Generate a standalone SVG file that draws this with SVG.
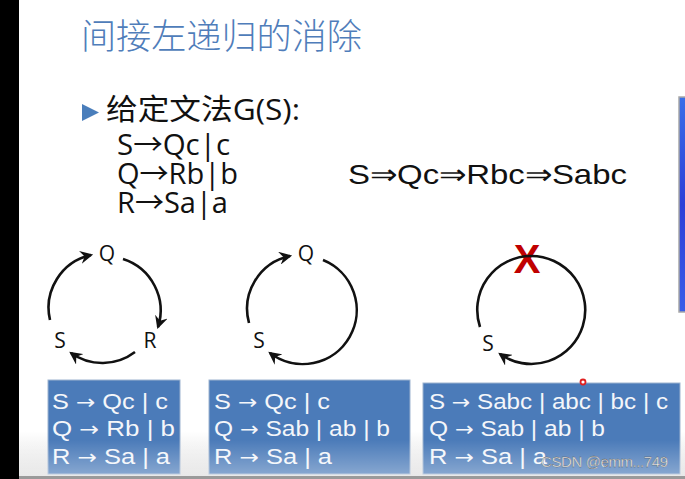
<svg xmlns="http://www.w3.org/2000/svg" width="685" height="479" viewBox="0 0 685 479">
<defs>
<style>
.title{font-family:"Noto Sans CJK SC","Noto Sans",sans-serif;font-size:35px;fill:#4F7DBA;font-weight:300}
.gram{font-family:"Open Sans","Noto Sans CJK SC",sans-serif;font-size:29px;fill:#111}
.deriv{font-family:"Liberation Sans",Arial,sans-serif;font-size:28px;fill:#111}
.lbl{font-family:"Open Sans","Noto Sans",sans-serif;font-size:21px;fill:#111}
.box{fill:#4B7BB9;stroke:#9DB3CF;stroke-width:1}
.btxt{font-family:"Liberation Sans",Arial,sans-serif;font-size:22px;fill:#F4F6FA}
.ar{font-family:"DejaVu Sans",sans-serif;font-size:20px}
.arc{fill:none;stroke:#111;stroke-width:2.6}
</style>
<marker id="ah" viewBox="0 0 12 12" refX="10" refY="6" markerWidth="5" markerHeight="5" orient="auto" markerUnits="strokeWidth">
<path d="M0,0 L12,6 L0,12 L4,6 Z" fill="#111"/>
</marker>
<linearGradient id="fade" x1="0" y1="0" x2="0" y2="1">
<stop offset="0" stop-color="#ffffff" stop-opacity="0"/>
<stop offset="1" stop-color="#ffffff" stop-opacity="0.35"/>
</linearGradient>
<linearGradient id="bg" x1="0" y1="0" x2="0" y2="1">
<stop offset="0" stop-color="#ffffff"/>
<stop offset="0.9" stop-color="#ffffff"/>
<stop offset="1" stop-color="#dcdcdc"/>
</linearGradient>
<linearGradient id="side" x1="0" y1="0" x2="0" y2="1">
<stop offset="0" stop-color="#3a6ee8"/>
<stop offset="0.5" stop-color="#2c3fd8"/>
<stop offset="1" stop-color="#3a5ee8"/>
</linearGradient>
</defs>
<rect x="0" y="0" width="685" height="479" fill="url(#bg)"/>
<rect x="0" y="0" width="19" height="479" fill="#000"/>
<rect x="679" y="97" width="8" height="215" fill="url(#side)" stroke="#a8a8a8" stroke-width="1.5"/>

<g id="title"><text class="title" x="81" y="49" textLength="281" lengthAdjust="spacingAndGlyphs">间接左递归的消除</text></g>

<g id="grammar">
<polygon points="82,104 99,112.5 82,121" fill="#4A7EBB"/>
<text class="gram" x="106" y="120" textLength="194" lengthAdjust="spacingAndGlyphs">给定文法G(S):</text>
<text class="gram" x="117" y="155" textLength="113" lengthAdjust="spacingAndGlyphs">S→Qc|c</text>
<text class="gram" x="117" y="184" textLength="121" lengthAdjust="spacingAndGlyphs">Q→Rb|b</text>
<text class="gram" x="117" y="213" textLength="111" lengthAdjust="spacingAndGlyphs">R→Sa|a</text>
</g>
<g id="derivation"><text class="deriv" x="348" y="184" textLength="279" lengthAdjust="spacingAndGlyphs">S⇒Qc⇒Rbc⇒Sabc</text></g>

<g id="nodes">
<g id="d1-Q"><text class="lbl" x="107" y="261" text-anchor="middle">Q</text></g>
<g id="d1-S"><text class="lbl" x="60" y="348" text-anchor="middle">S</text></g>
<g id="d1-R"><text class="lbl" x="150" y="348" text-anchor="middle">R</text></g>
<g id="d2-Q"><text class="lbl" x="306" y="261" text-anchor="middle">Q</text></g>
<g id="d2-S"><text class="lbl" x="259" y="348" text-anchor="middle">S</text></g>
<g id="d3-S"><text class="lbl" x="488" y="351" text-anchor="middle">S</text></g>
<g id="d3-X"><text x="527" y="273" text-anchor="middle" font-family="Liberation Sans,Arial,sans-serif" font-weight="bold" font-size="40" fill="#C00000">X</text></g>
</g>

<g id="connectors">
<path class="arc" d="M50,320 A54,54 0 0 1 91,255" marker-end="url(#ah)"/>
<path class="arc" d="M123,259 A54,54 0 0 1 158,327" marker-end="url(#ah)"/>
<path class="arc" d="M135,352 A54,54 0 0 1 71,353" marker-end="url(#ah)"/>
<path class="arc" d="M249,323 A54,54 0 0 1 290,256" marker-end="url(#ah)"/>
<path class="arc" d="M323,260 A54,54 0 1 1 270,353" marker-end="url(#ah)"/>
<path class="arc" d="M480,327 A54,54 0 1 1 500,354" marker-end="url(#ah)"/>
</g>

<g id="box1">
<rect class="box" x="48" y="380" width="132" height="94"/>
<text class="btxt" x="52" y="409" textLength="116" lengthAdjust="spacingAndGlyphs">S <tspan class="ar">→</tspan> Qc | c</text>
<text class="btxt" x="52" y="436" textLength="123" lengthAdjust="spacingAndGlyphs">Q <tspan class="ar">→</tspan> Rb | b</text>
<text class="btxt" x="52" y="464" textLength="118" lengthAdjust="spacingAndGlyphs">R <tspan class="ar">→</tspan> Sa | a</text>
</g>
<g id="box2">
<rect class="box" x="209" y="380" width="201" height="94"/>
<text class="btxt" x="214" y="409" textLength="116" lengthAdjust="spacingAndGlyphs">S <tspan class="ar">→</tspan> Qc | c</text>
<text class="btxt" x="214" y="436" textLength="176" lengthAdjust="spacingAndGlyphs">Q <tspan class="ar">→</tspan> Sab | ab | b</text>
<text class="btxt" x="214" y="464" textLength="118" lengthAdjust="spacingAndGlyphs">R <tspan class="ar">→</tspan> Sa | a</text>
</g>
<g id="box3">
<rect class="box" x="423" y="383" width="257" height="91"/>
<text class="btxt" x="429" y="409" textLength="239" lengthAdjust="spacingAndGlyphs">S <tspan class="ar">→</tspan> Sabc | abc | bc | c</text>
<text class="btxt" x="429" y="436" textLength="176" lengthAdjust="spacingAndGlyphs">Q <tspan class="ar">→</tspan> Sab | ab | b</text>
<text class="btxt" x="429" y="464" textLength="118" lengthAdjust="spacingAndGlyphs">R <tspan class="ar">→</tspan> Sa | a</text>
</g>

<rect x="19" y="440" width="666" height="36" fill="url(#fade)"/>
<rect x="19" y="476" width="666" height="3" fill="#9a9a9a"/>
<text x="541" y="467" font-family="Liberation Sans,Arial,sans-serif" font-size="15" fill="#EDEDED" stroke="#555" stroke-width="0.3" textLength="127">CSDN @emm...749</text>
<circle cx="583" cy="382" r="2.5" fill="#fff" stroke="#E02020" stroke-width="1.8"/>
</svg>
